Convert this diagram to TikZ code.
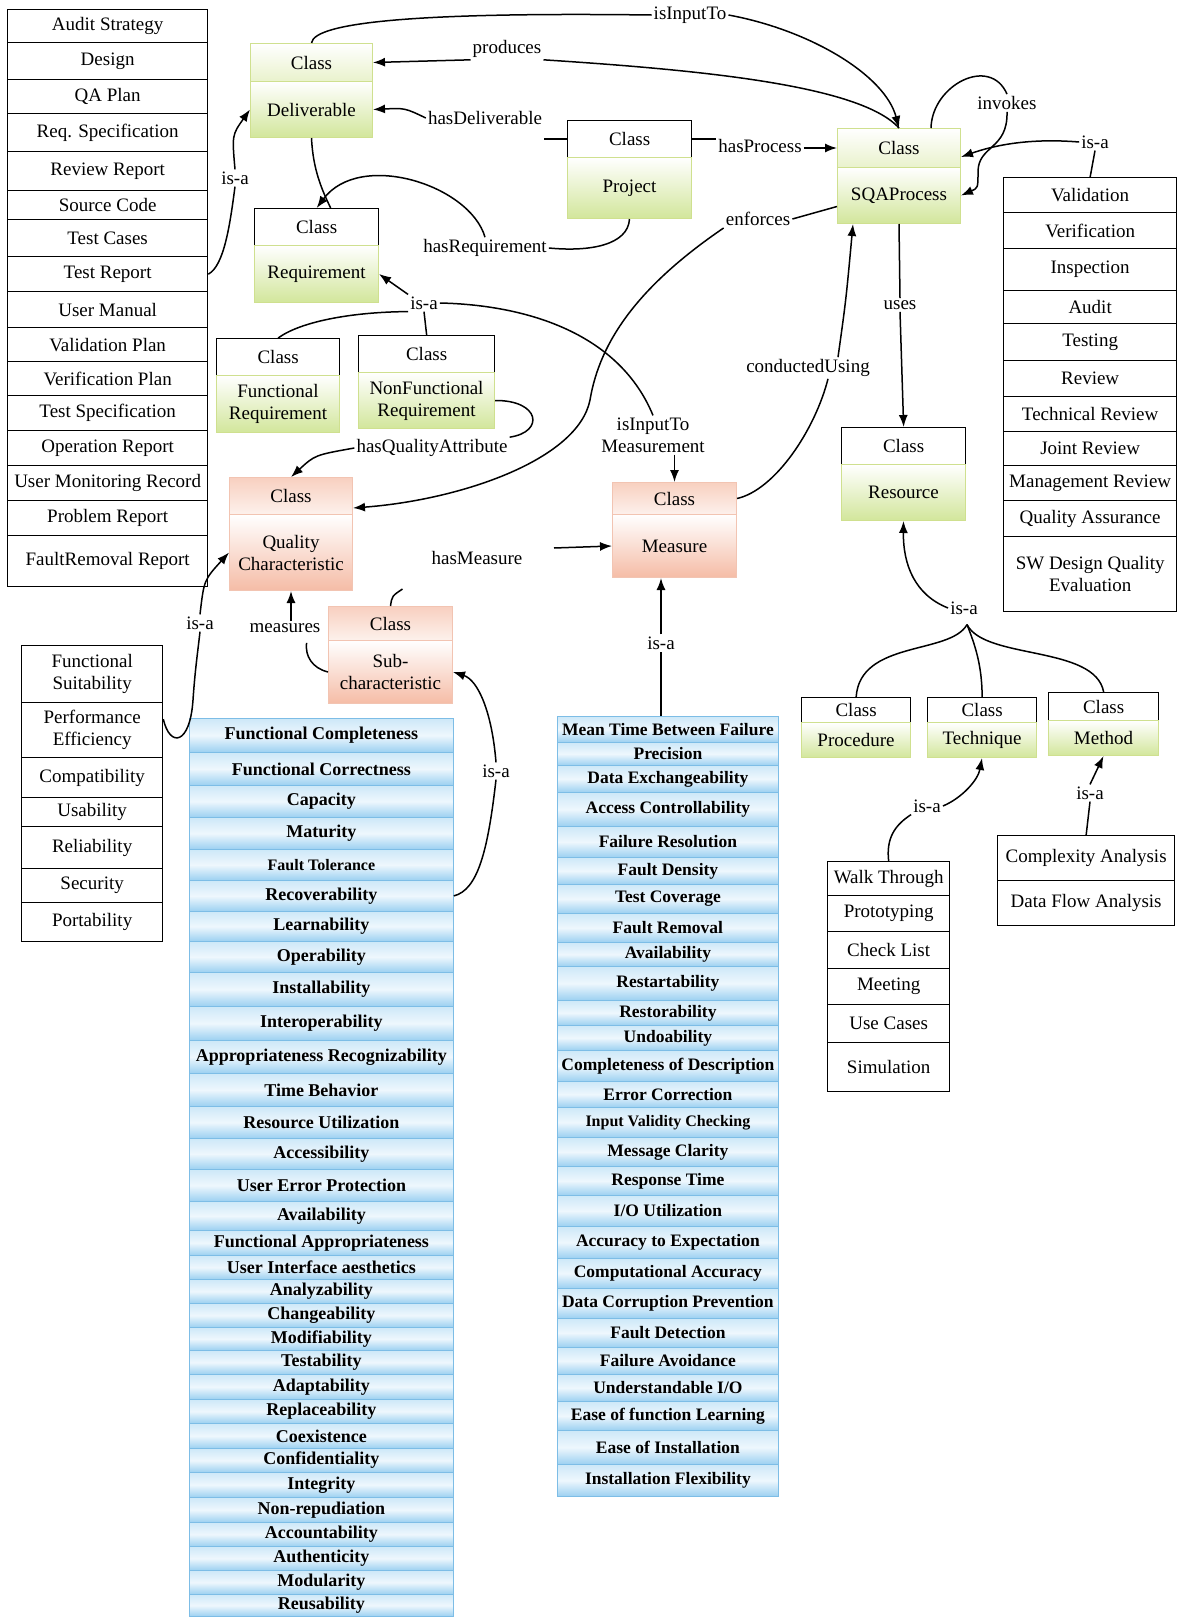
\documentclass[tikz,border=0pt]{standalone}
\usepackage{fontspec}
\setmainfont{Liberation Serif}
\usetikzlibrary{arrows.meta,calc}

\definecolor{grnLine}{HTML}{CFE08F}
\definecolor{grnHead}{HTML}{E9F2CC}
\definecolor{grnBody}{HTML}{D2E69B}
\definecolor{redLine}{HTML}{F2C4B2}
\definecolor{redHeadTop}{HTML}{F8D0C0}
\definecolor{redHeadBot}{HTML}{FDF1EC}
\definecolor{redBody}{HTML}{F5BCA6}
\definecolor{blueLine}{HTML}{7DBDE6}
\definecolor{blueTop}{HTML}{CDE8F8}
\definecolor{blueMid}{HTML}{EEF7FD}
\definecolor{blueBot}{HTML}{9BD0F1}

\tikzset{
  every node/.style={font=\fontsize{19}{22}\selectfont},
  conn/.style={line width=1.5pt, black},
  arr/.style={conn, -{Latex[length=12pt,width=9pt]}},
  lbl/.style={inner sep=2pt, align=center},
  ghead/.style={draw=grnLine, line width=1pt, top color=white, bottom color=grnHead, inner sep=0pt},
  gbody/.style={draw=grnLine, line width=1pt, top color=white, bottom color=grnBody, inner sep=0pt, align=center},
  kghead/.style={draw=black, line width=1.3pt, fill=white, inner sep=0pt},
  kgbody/.style={gbody},
  rhead/.style={draw=redLine, line width=1pt, top color=redHeadTop, bottom color=redHeadBot, inner sep=0pt},
  rbody/.style={draw=redLine, line width=1pt, top color=white, bottom color=redBody, inner sep=0pt, align=center},
  listrow/.style={draw=black, line width=1.3pt, fill=white, inner sep=0pt, align=center},
  bluerow/.style={draw=blueLine, line width=0.8pt, top color=blueTop, bottom color=blueBot, middle color=blueMid,
                  inner sep=0pt, align=center, font=\fontsize{18}{20}\selectfont\bfseries},
  bluerowm/.style={bluerow, font=\fontsize{17.5}{20}\selectfont\bfseries},
}

% class box: name, left, top, divider, right, bottom, body text, style prefix
\newcommand{\classbox}[8]{%
  \pgfmathsetmacro{\cbW}{#5-#2}%
  \pgfmathsetmacro{\cbH}{#4-#3}%
  \pgfmathsetmacro{\cbB}{#6-#4}%
  \node[#8head, minimum width=\cbW pt, minimum height=\cbH pt, anchor=north west] (#1H) at (#2,#3) {Class};
  \node[#8body, minimum width=\cbW pt, minimum height=\cbB pt, anchor=north west] (#1) at (#2,#4) {#7};
}

% column of stacked rows: name prefix, left, right, style, top/bottom/text items
\newcommand{\rowcolumn}[5]{%
  \pgfmathsetmacro{\lcW}{#3-#2}%
  \foreach \rowtop/\rowbot/\rowtxt [count=\rowidx] in {#5} {%
    \pgfmathsetmacro{\lcH}{\rowbot-\rowtop}%
    \node[#4, minimum width=\lcW pt, minimum height=\lcH pt, anchor=north west] (#1\rowidx) at (#2,\rowtop) {\rowtxt};
  }%
}

\begin{document}
\begin{tikzpicture}[x=1pt, y=-1pt]
\fill[white] (0,0) rectangle (1184,1617);
\useasboundingbox (0,0) rectangle (1184,1617);

% ---------- class boxes ----------
\classbox{deliv}{250}{43}{81}{372}{137}{Deliverable}{g}
\classbox{req}{254}{208}{245}{378}{302}{Requirement}{kg}
\classbox{proj}{567}{120}{157}{691}{218}{Project}{kg}
\classbox{sqa}{837}{128}{167}{960}{223}{SQAProcess}{g}
\classbox{freq}{216}{338}{375}{339}{432}{Functional\\Requirement}{kg}
\classbox{nfreq}{358}{335}{372}{494}{428}{NonFunctional\\Requirement}{kg}
\classbox{qc}{229}{477}{514}{352}{590}{Quality\\Characteristic}{r}
\classbox{sub}{328}{606}{640}{452}{703}{Sub-\\characteristic}{r}
\classbox{meas}{612}{482}{514}{736}{577}{Measure}{r}
\classbox{res}{841}{427}{464}{965}{520}{Resource}{kg}
\classbox{proc}{801}{697}{722}{910}{757}{Procedure}{kg}
\classbox{tech}{927}{697}{722}{1036}{757}{Technique}{kg}
\classbox{meth}{1048}{692}{720}{1158}{755}{Method}{kg}

% ---------- instance lists ----------
\rowcolumn{dl}{7}{207}{listrow}{9/42/Audit Strategy, 42/79/Design, 79/113/QA Plan,
  113/151/Req. Specification, 151/190/Review Report, 190/219/Source Code,
  219/256/Test Cases, 256/291/Test Report, 291/327/User Manual,
  327/361/Validation Plan, 361/395/Verification Plan, 395/430/Test Specification,
  430/465/Operation Report, 465/500/User Monitoring Record, 500/535/Problem Report,
  535/586/FaultRemoval Report}

\rowcolumn{cl}{21}{162}{listrow}{645/702/{Functional\\Suitability}, 702/757/{Performance\\Efficiency},
  757/797/Compatibility, 797/826/Usability, 826/868/Reliability, 868/902/Security,
  902/941/Portability}

\rowcolumn{pl}{1003}{1176}{listrow}{177/212/Validation, 212/248/Verification, 248/290/Inspection,
  290/323/Audit, 323/360/Testing, 360/396/Review, 396/431/Technical Review,
  431/465/Joint Review, 465/500/Management Review, 500/536/Quality Assurance,
  536/611/{SW Design Quality\\Evaluation}}

\rowcolumn{tl}{827}{949}{listrow}{861/895/Walk Through, 895/931/Prototyping, 931/968/Check List,
  968/1004/Meeting, 1004/1042/Use Cases, 1042/1091/Simulation}

\rowcolumn{al}{997}{1174}{listrow}{835/880/Complexity Analysis, 880/925/Data Flow Analysis}

\rowcolumn{sl}{189}{453}{bluerow}{718/752/Functional Completeness, 752/785/Functional Correctness,
  785/817/Capacity, 817/849/Maturity, 849/880/{\fontsize{16}{18}\selectfont Fault Tolerance},
  880/911/Recoverability, 911/941/Learnability, 941/972/Operability, 972/1006/Installability,
  1006/1040/Interoperability, 1040/1073/Appropriateness Recognizability, 1073/1106/Time Behavior,
  1106/1138/Resource Utilization, 1138/1169/Accessibility, 1169/1201/User Error Protection,
  1201/1230/Availability, 1230/1255/Functional Appropriateness, 1255/1279/User Interface aesthetics,
  1279/1303/Analyzability, 1303/1327/Changeability, 1327/1350/Modifiability, 1350/1374/Testability,
  1374/1399/Adaptability, 1399/1423/Replaceability, 1423/1448/Coexistence, 1448/1472/Confidentiality,
  1472/1497/Integrity, 1497/1522/Non-repudiation, 1522/1546/Accountability, 1546/1570/Authenticity,
  1570/1594/Modularity, 1594/1616/Reusability}

\rowcolumn{ml}{557}{778}{bluerowm}{716/742/Mean Time Between Failure, 742/765/Precision,
  765/792/Data Exchangeability, 792/826/Access Controllability, 826/857/Failure Resolution,
  857/884/Fault Density, 884/913/Test Coverage, 913/942/Fault Removal, 942/966/Availability,
  966/1000/Restartability, 1000/1025/Restorability, 1025/1050/Undoability,
  1050/1081/Completeness of Description, 1081/1107/Error Correction,
  1107/1137/{\fontsize{16}{18}\selectfont Input Validity Checking}, 1137/1166/Message Clarity,
  1166/1195/Response Time, 1195/1226/{I/O Utilization}, 1226/1258/Accuracy to Expectation,
  1258/1288/Computational Accuracy, 1288/1318/Data Corruption Prevention, 1318/1347/Fault Detection,
  1347/1374/Failure Avoidance, 1374/1401/{Understandable I/O}, 1401/1430/Ease of function Learning,
  1430/1464/Ease of Installation, 1464/1496/Installation Flexibility}

% ---------- relation labels ----------
\node[lbl] (lIsInputTo) at (690,15) {isInputTo};
\node[lbl] (lProduces) at (507,49) {produces};
\node[lbl] (lHasDeliv) at (485,118) {hasDeliverable};
\node[lbl] (lHasProc) at (760,146) {hasProcess};
\node[lbl] (lHasReq) at (485,248) {hasRequirement};
\node[lbl] (lIsaDeliv) at (235,178) {is-a};
\node[lbl] (lIsaReq) at (424,303) {is-a};
\node[lbl] (lInputMeas) at (653,435) {isInputTo\\Measurement};
\node[lbl] (lHasQA) at (432,448) {hasQualityAttribute};
\node[lbl] (lEnforces) at (758,219) {enforces};
\node[lbl] (lConducted) at (808,368) {conductedUsing};
\node[lbl] (lUses) at (900,305) {uses};
\node[lbl] (lInvokes) at (1007,103) {invokes};
\node[lbl] (lIsaPl) at (1095,142) {is-a};
\node[lbl] (lHasMeasure) at (477,558) {hasMeasure};
\node[lbl] (lMeasures) at (285,628) {measures};
\node[lbl] (lIsaQC) at (200,623) {is-a};
\node[lbl] (lIsaSub) at (496,771) {is-a};
\node[lbl] (lIsaMeas) at (661,643) {is-a};
\node[lbl] (lIsaRes) at (964,608) {is-a};
\node[lbl] (lIsaTech) at (927,806) {is-a};
\node[lbl] (lIsaMeth) at (1090,793) {is-a};

% ---------- relations ----------
% Deliverable isInputTo SQAProcess
\draw[conn] (delivH.north) .. controls (314,22) and (420,12) .. (lIsInputTo.west);
\draw[arr] (lIsInputTo.east) .. controls (810,30) and (885,75) .. (sqaH.north);
% SQAProcess produces Deliverable
\draw[arr] (lProduces.south west) -- (delivH.east);
\draw[conn] (lProduces.south east) .. controls (700,70) and (860,85) .. (sqaH.north);
% Project hasDeliverable Deliverable
\draw[arr] (lHasDeliv.west) .. controls (405,108) .. (deliv.east);
\draw[conn] (projH.west) -- (lHasDeliv.south east |- projH.west);
% Project hasProcess SQAProcess
\draw[conn] (projH.east) -- (lHasProc.west |- projH.east);
\draw[arr] (lHasProc.east |- sqaH.west) -- (sqaH.west);
% Deliverable -- Requirement
\draw[conn] (deliv.south) .. controls (313,170) and (322,190) .. ($(reqH.north)+(14,0)$);
% Project hasRequirement Requirement
\draw[conn] (proj.south) .. controls (628,245) and (590,252) .. (lHasReq.east);
\draw[arr] (lHasReq.north) .. controls (470,185) and (360,150) .. (reqH.north);
% deliverable kinds is-a Deliverable
\draw[conn] (dl8.east) .. controls (224,266) and (230,225) .. (lIsaDeliv.south);
\draw[arr] (lIsaDeliv.north) .. controls (232,135) .. (deliv.west);
% requirement kinds is-a Requirement
\draw[arr] (lIsaReq.north west) -- (req.east);
\draw[conn] (freqH.north) .. controls (300,322) and (350,312) .. (lIsaReq.south west);
\draw[conn] (nfreqH.north) -- (lIsaReq.south);
% Requirement isInputTo Measurement Measure
\draw[conn] (lIsaReq.east) .. controls (530,305) and (620,335) .. (lInputMeas.north);
\draw[arr] (lInputMeas.south -| measH.north) -- (measH.north);
% NonFunctional Requirement hasQualityAttribute Quality Characteristic
\draw[conn] (nfreq.east) .. controls (540,400) and (545,432) .. (lHasQA.north east);
\draw[arr] (lHasQA.west) .. controls (315,455) .. (qcH.north);
% SQAProcess enforces Quality Characteristic
\draw[conn] ($(sqa.west)+(0,11)$) -- (lEnforces.east);
\draw[arr] (lEnforces.south west) .. controls (640,285) and (600,340) .. (590,400)
  .. controls (578,460) and (460,500) .. ($(qcH.south east)+(0,-7)$);
% Measure conductedUsing SQAProcess
\draw[conn] (measH.east) .. controls (775,490) and (815,430) .. ($(lConducted.south)+(20,0)$);
\draw[arr] ($(lConducted.north)+(30,0)$) .. controls (846,300) .. ($(sqa.south west)+(16,0)$);
% SQAProcess uses Resource
\draw[conn] (sqa.south) -- (lUses.north);
\draw[arr] (lUses.south) -- (resH.north);
% SQAProcess invokes SQAProcess
\draw[conn] ($(sqaH.north east)+(-30,0)$) .. controls (932,85) and (990,55) .. (lInvokes.north);
\draw[arr] (lInvokes.south) .. controls (1008,150) and (978,145) .. (978,172) .. controls (978,188) .. (sqa.east);
% process kinds is-a SQAProcess
\draw[conn] (pl1.north) -- (lIsaPl.south);
\draw[arr] (lIsaPl.west) .. controls (1030,138) and (995,145) .. ($(sqaH.east)+(0,9)$);
% Sub-characteristic hasMeasure Measure
\draw[conn] (subH.north) .. controls (392,596) .. ($(subH.north)+(12,-17)$);
\draw[arr] ($(meas.west)+(-58,2)$) -- (meas.west);
% Sub-characteristic measures Quality Characteristic
\draw[arr] (lMeasures.north -| qc.south) -- (qc.south);
\draw[conn] (sub.west) .. controls (312,668) and (305,656) .. ($(lMeasures.south east)+(-16,8)$);
% characteristics is-a Quality Characteristic
\draw[conn] ($(cl2.east)+(0,-11)$) .. controls (170,748) and (190,745) .. (193,700)
  .. controls (195,670) and (198,650) .. (lIsaQC.south);
\draw[arr] (lIsaQC.north) .. controls (204,580) .. (qc.west);
% sub-characteristics is-a Sub-characteristic
\draw[conn] (sl6.east) .. controls (478,890) and (488,850) .. (lIsaSub.south);
\draw[arr] (lIsaSub.north) .. controls (492,712) and (478,680) .. (sub.east);
% measures is-a Measure
\draw[arr] (lIsaMeas.north) -- (lIsaMeas.north |- meas.south);
\draw[conn] (ml1.north -| lIsaMeas.south) -- (lIsaMeas.south);
% resource kinds is-a Resource
\coordinate (resFork) at ($(lIsaRes.south)+(3,8)$);
\draw[arr] (lIsaRes.west) .. controls (915,595) and (903,565) .. (res.south);
\draw[conn] (resFork) .. controls (950,655) and (860,640) .. (procH.north);
\draw[conn] (resFork) .. controls (975,645) and (982,665) .. (techH.north);
\draw[conn] (resFork) .. controls (985,660) and (1095,645) .. (methH.north);
% techniques is-a Technique
\draw[conn] (tl1.north) .. controls (886,838) and (895,825) .. (lIsaTech.south west);
\draw[arr] (lIsaTech.east) .. controls (962,798) and (978,780) .. (tech.south);
% methods is-a Method
\draw[conn] (al1.north) -- (lIsaMeth.south);
\draw[arr] (lIsaMeth.north) -- (meth.south);

\end{tikzpicture}
\end{document}
